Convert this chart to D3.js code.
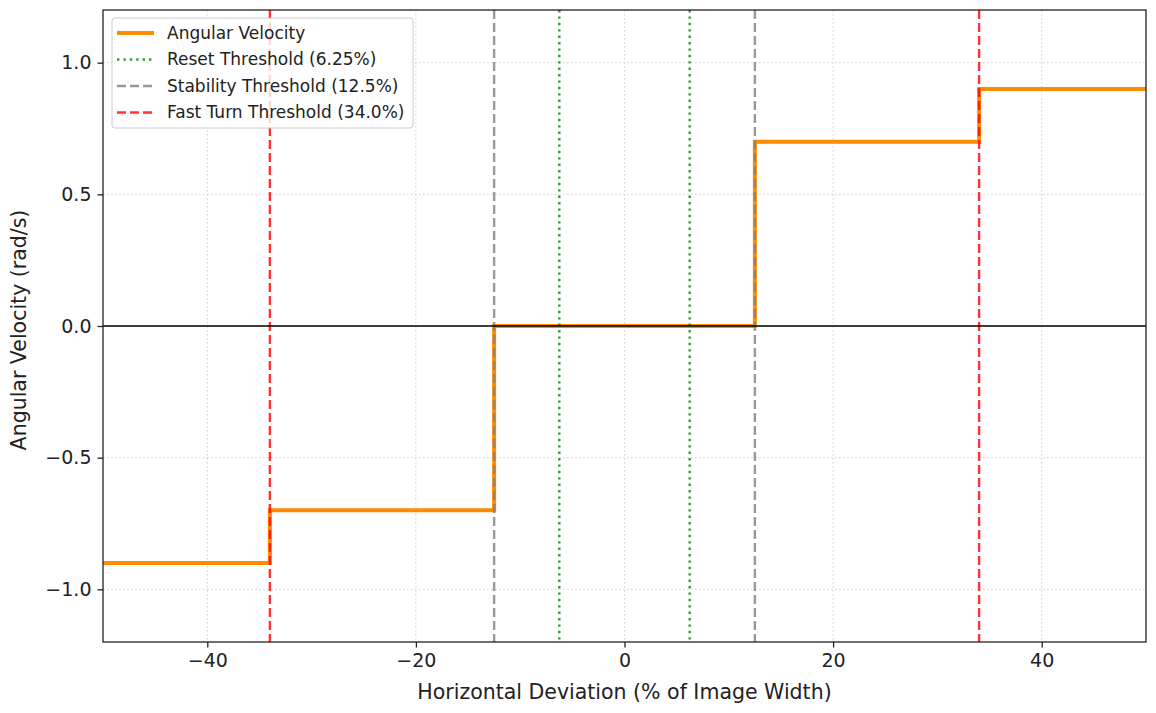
<!DOCTYPE html>
<html>
<head>
<meta charset="utf-8">
<script src="https://cdn.jsdelivr.net/npm/d3@7"></script>
<style>
  body { margin: 0; background: #fff; }
  text { font-family: "DejaVu Sans", sans-serif; fill: #222; }
</style>
</head>
<body>
<div id="chart"></div>
<script>
// step edges and angular velocity levels
var stepEdges = [-50, -34, -12.5, 12.5, 34, 50];
var stepValues = [-0.9, -0.7, 0, 0.7, 0.9];

var xTicks = [-40, -20, 0, 20, 40];
var yTicks = [-1.0, -0.5, 0.0, 0.5, 1.0];

var resetLines = [-6.25, 6.25];
var stabilityLines = [-12.5, 12.5];
var fastLines = [-34, 34];

var legendLabels = ["Angular Velocity", "Reset Threshold (6.25%)", "Stability Threshold (12.5%)", "Fast Turn Threshold (34.0%)"];

var W = 1156, H = 713;
var margin = {top: 10, right: 10, bottom: 71, left: 103};
var width = W - margin.left - margin.right,
    height = H - margin.top - margin.bottom;

var svg = d3.select("#chart").append("svg")
    .attr("width", W)
    .attr("height", H);

var g = svg.append("g")
    .attr("transform", "translate(" + margin.left + "," + margin.top + ")");

var x = d3.scaleLinear().domain([-50, 50]).range([0, width]);
var y = d3.scaleLinear().domain([-1.2, 1.2]).range([height, 0]);

var minus = function(s){ return s.replace("-", "\u2212"); };

// grid
g.append("g").selectAll("line").data(xTicks).enter().append("line")
    .attr("x1", function(d){ return x(d); }).attr("x2", function(d){ return x(d); })
    .attr("y1", 0).attr("y2", height)
    .attr("stroke", "#b0b0b0").attr("stroke-opacity", 0.6)
    .attr("stroke-width", 1).attr("stroke-dasharray", "1.5,2.5");
g.append("g").selectAll("line").data(yTicks).enter().append("line")
    .attr("y1", function(d){ return y(d); }).attr("y2", function(d){ return y(d); })
    .attr("x1", 0).attr("x2", width)
    .attr("stroke", "#b0b0b0").attr("stroke-opacity", 0.6)
    .attr("stroke-width", 1).attr("stroke-dasharray", "1.5,2.5");

// step line
var stepPts = stepValues.map(function(v, i){ return [stepEdges[i], v]; });
stepPts.push([stepEdges[stepEdges.length - 1], stepValues[stepValues.length - 1]]);
var line = d3.line()
    .x(function(d){ return x(d[0]); })
    .y(function(d){ return y(d[1]); })
    .curve(d3.curveStepAfter);
g.append("path").datum(stepPts)
    .attr("d", line)
    .attr("fill", "none")
    .attr("stroke", "#ff8c00")
    .attr("stroke-width", 4);

// threshold lines
function vlines(data, color, dash, w){
  g.append("g").selectAll("line").data(data).enter().append("line")
      .attr("x1", function(d){ return x(d); }).attr("x2", function(d){ return x(d); })
      .attr("y1", 0).attr("y2", height)
      .attr("stroke", color).attr("stroke-opacity", 0.8)
      .attr("stroke-width", w).attr("stroke-dasharray", dash);
}
vlines(resetLines, "#008000", "2.4,4", 2.4);
vlines(stabilityLines, "#808080", "9,4", 2.4);
vlines(fastLines, "#ff0000", "9,4", 2.4);

// zero line
g.append("line")
    .attr("x1", 0).attr("x2", width)
    .attr("y1", y(0)).attr("y2", y(0))
    .attr("stroke", "#000").attr("stroke-width", 1.3);

// axes
var xAxis = g.append("g")
    .attr("transform", "translate(0," + height + ")")
    .call(d3.axisBottom(x).tickValues(xTicks).tickSize(5.5).tickPadding(6)
      .tickFormat(function(d){ return minus(d3.format("d")(d)); }));
var yAxis = g.append("g")
    .call(d3.axisLeft(y).tickValues(yTicks).tickSize(5.5).tickPadding(6)
      .tickFormat(function(d){ return minus(d3.format(".1f")(d)); }));
[xAxis, yAxis].forEach(function(a){
  a.select(".domain").remove();
  a.selectAll("line").attr("stroke", "#222").attr("stroke-width", 1.3);
  a.selectAll("text").style("font-size", "19px").attr("fill", "#222");
});

// frame
g.append("rect")
    .attr("width", width).attr("height", height)
    .attr("fill", "none").attr("stroke", "#222").attr("stroke-width", 1.3);

// axis labels
svg.append("text")
    .attr("x", margin.left + width / 2).attr("y", 699)
    .attr("text-anchor", "middle").style("font-size", "20.5px")
    .text("Horizontal Deviation (% of Image Width)");
svg.append("text")
    .attr("transform", "translate(26,330) rotate(-90)")
    .attr("text-anchor", "middle").style("font-size", "20.5px")
    .text("Angular Velocity (rad/s)");

// legend
var leg = g.append("g").attr("transform", "translate(9,8)");
leg.append("rect")
    .attr("width", 301).attr("height", 110).attr("rx", 3)
    .attr("fill", "#fff").attr("fill-opacity", 0.8)
    .attr("stroke", "#ccc").attr("stroke-width", 1);
var legStyles = [
  {color: "#ff8c00", dash: null, w: 4, op: 1},
  {color: "#008000", dash: "2.4,4", w: 2.4, op: 0.8},
  {color: "#808080", dash: "9,4", w: 2.4, op: 0.8},
  {color: "#ff0000", dash: "9,4", w: 2.4, op: 0.8}
];
var rows = leg.selectAll(".row").data(legendLabels).enter().append("g")
    .attr("transform", function(d, i){ return "translate(0," + (15 + i * 26.5) + ")"; });
rows.append("line")
    .attr("x1", 5).attr("x2", 42)
    .attr("stroke", function(d, i){ return legStyles[i].color; })
    .attr("stroke-width", function(d, i){ return legStyles[i].w; })
    .attr("stroke-opacity", function(d, i){ return legStyles[i].op; })
    .attr("stroke-dasharray", function(d, i){ return legStyles[i].dash; });
rows.append("text")
    .attr("x", 55).attr("dy", "0.35em")
    .style("font-size", "17px")
    .text(function(d){ return d; });
</script>
</body>
</html>
